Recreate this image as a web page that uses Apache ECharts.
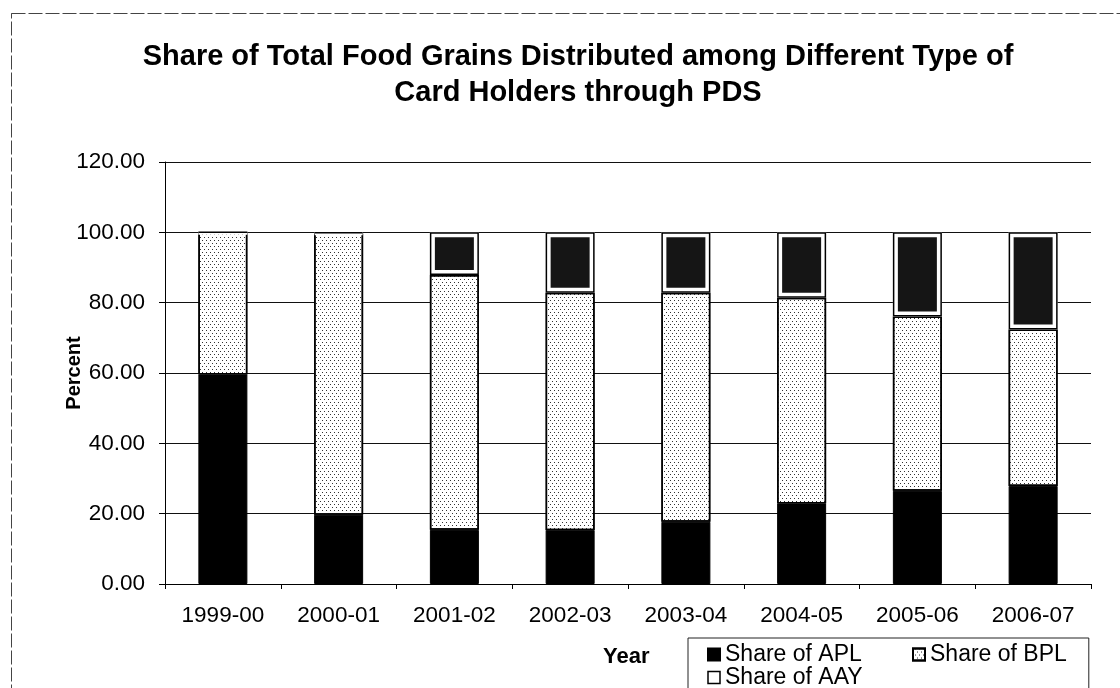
<!DOCTYPE html>
<html>
<head>
<meta charset="utf-8">
<script src="https://cdn.jsdelivr.net/npm/echarts@6/dist/echarts.min.js"></script>
<style>html,body{margin:0;padding:0;background:#fff;}#c{width:1120px;height:688px;}</style>
</head>
<body>
<div id="c"></div>
<script>
const categories = ['1999-00','2000-01','2001-02','2002-03','2003-04','2004-05','2005-06','2006-07'];
const shareAPL = [59.6, 19.7, 15.4, 15.3, 17.7, 22.9, 26.5, 27.9];
const shareBPL = [40.4, 80.0, 72.5, 67.5, 65.1, 58.5, 49.6, 44.5];
const shareAAY = [0, 0.3, 12.1, 17.2, 17.2, 18.6, 23.9, 27.6];
const yTicks = [0, 20, 40, 60, 80, 100, 120];

// base under the AAY outline (APL + BPL)
const aayBase = shareAPL.map((v, i) => v + shareBPL[i]);

const chart = echarts.init(document.getElementById('c'), null, {renderer: 'canvas'});
const font = 'Arial, "Liberation Sans", sans-serif';
const dotDecal = {
  symbol: 'rect', symbolSize: 1, color: '#333',
  dashArrayX: [[1, 3], [0, 2, 1, 1]], dashArrayY: [1, 2], rotation: 0
};
const BW = 49;
chart.setOption({
  animation: false,
  backgroundColor: '#fff',
  title: {
    text: 'Share of Total Food Grains Distributed among Different Type of\nCard Holders through PDS',
    left: 573, top: 34, textAlign: 'center',
    textStyle: {fontFamily: font, fontSize: 29, fontWeight: 'bold', color: '#000', lineHeight: 36}
  },
  grid: {left: 165, right: 29, top: 162, bottom: 104, containLabel: false},
  xAxis: {
    type: 'category', data: categories,
    axisLine: {lineStyle: {color: '#000', width: 1}},
    axisTick: {show: true, length: 5, lineStyle: {color: '#000'}},
    axisLabel: {fontFamily: font, fontSize: 22.5, color: '#000', margin: 20}
  },
  yAxis: {
    type: 'value', min: yTicks[0], max: yTicks[yTicks.length - 1], interval: 20,
    axisLine: {show: true, lineStyle: {color: '#000'}},
    axisTick: {show: true, length: 6, lineStyle: {color: '#000'}},
    splitLine: {lineStyle: {color: '#111', width: 1}},
    axisLabel: {fontFamily: font, fontSize: 22.5, color: '#000', margin: 20,
      formatter: v => v.toFixed(2)}
  },
  legend: {
    left: 688, top: 638, width: 372, orient: 'horizontal',
    padding: [5, 22, 40, 19], itemGap: 0,
    borderColor: '#222', borderWidth: 1,
    icon: 'rect', itemWidth: 12, itemHeight: 12,
    textStyle: {fontFamily: font, fontSize: 23, color: '#000', lineHeight: 12},
    data: [
      {name: 'Share of APL', textStyle: {width: 187}},
      {name: 'Share of BPL'},
      {name: 'Share of AAY', itemStyle: {color: '#fff', borderColor: '#000', borderWidth: 1.5}}
    ]
  },
  graphic: [
    {type: 'rect', shape: {x: 11.5, y: 13.5, width: 1200, height: 800},
     style: {fill: 'none', stroke: '#444', lineWidth: 1, lineDash: [14, 3]}, silent: true},
    {type: 'text', x: 603, y: 657,
     style: {text: 'Year', font: 'bold 22px ' + font, fill: '#000', verticalAlign: 'middle', align: 'left'}},
    {type: 'text', x: 74, y: 373, rotation: Math.PI / 2,
     style: {text: 'Percent', font: 'bold 20px ' + font, fill: '#000', verticalAlign: 'middle', align: 'center'}}
  ],
  series: [
    {name: 'Share of APL', type: 'bar', stack: 's', data: shareAPL, barWidth: BW, barGap: '-100%',
     itemStyle: {color: '#000', borderColor: '#000', borderWidth: 1}},
    {name: 'Share of BPL', type: 'bar', stack: 's', data: shareBPL, barWidth: BW, barGap: '-100%',
     itemStyle: {color: '#fff', borderColor: '#000', borderWidth: 1.5, decal: dotDecal}},
    {name: 'Share of AAY', type: 'bar', stack: 's', data: shareAAY, barWidth: BW, barGap: '-100%',
     itemStyle: {color: '#151515', borderColor: '#fff', borderWidth: 5}},
    {name: 'aay-base', type: 'bar', stack: 'o', data: aayBase, barWidth: BW, barGap: '-100%', silent: true,
     itemStyle: {color: 'rgba(0,0,0,0)', borderWidth: 0}},
    {name: 'aay-outline', type: 'bar', stack: 'o', data: shareAAY, barWidth: BW, barGap: '-100%', silent: true,
     itemStyle: {color: 'rgba(0,0,0,0)', borderColor: '#000', borderWidth: 1.5}}
  ]
});
</script>
</body>
</html>
